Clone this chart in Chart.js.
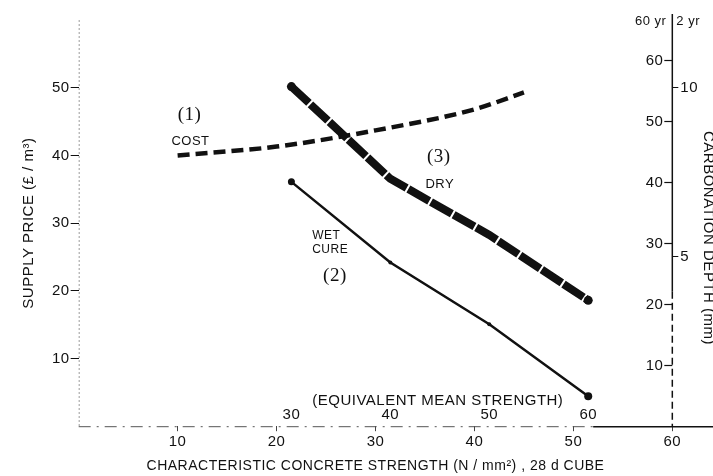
<!DOCTYPE html>
<html>
<head>
<meta charset="utf-8">
<title>Concrete strength: supply price and carbonation depth</title>
<script src="https://cdn.jsdelivr.net/npm/chart.js@4.4.1/dist/chart.umd.min.js"></script>
<style>
  html, body { margin: 0; padding: 0; background: #fff; }
  canvas { display: block; }
</style>
</head>
<body>
<canvas id="chart" width="713" height="476"></canvas>
<script>
// characteristic strength (N/mm2, 28 d cube) along x
var costStrength = [10, 20, 30, 40, 45];
var costPrice = [40, 41.3, 43.7, 46.8, 49.3];      // (1) supply price, £/m3

var cureStrength = [21.5, 31.5, 41.5, 51.5];
var wetDepth = [40, 26.8, 16.7, 4.9];              // (2) wet cure, 60 yr depth scale
var dryDepth = [55.6, 40.5, 31.3, 20.6];           // (3) dry, 60 yr depth scale

var strengthTicks = [10, 20, 30, 40, 50, 60];
var meanTicks = [30, 40, 50, 60];
var meanMargin = 8.5;                              // equivalent mean = characteristic + margin
var priceTicks = [10, 20, 30, 40, 50];
var depth60Ticks = [10, 20, 30, 40, 50, 60];
var depth2Ticks = [5, 10];

var ink = '#111';
var sans = "'Liberation Sans', Arial, Helvetica, sans-serif";
var serif = "'Liberation Serif', 'Times New Roman', serif";

Chart.defaults.font.family = sans;
Chart.defaults.color = ink;

function pts(xs, ys) {
  return xs.map(function(x, i) { return {x: x, y: ys[i]}; });
}

function fixedTicks(list) {
  return function(scale) {
    scale.ticks = list.map(function(v) { return {value: v}; });
  };
}

var decor = {
  id: 'decor',
  beforeUpdate: function(chart) { chart.ctx.letterSpacing = '0.5px'; },
  beforeDraw: function(chart) { chart.ctx.letterSpacing = '0.5px'; },
  beforeDatasetsDraw: function(chart) {
    var ctx = chart.ctx, a = chart.chartArea;
    var xs = chart.scales.x, y60 = chart.scales.y60;
    function line(x1, y1, x2, y2) {
      ctx.beginPath(); ctx.moveTo(x1, y1); ctx.lineTo(x2, y2); ctx.stroke();
    }
    ctx.save();
    // left axis: faint dotted
    ctx.lineWidth = 1;
    ctx.strokeStyle = '#9c9c9c';
    ctx.setLineDash([2, 2]);
    line(a.left + 0.5, a.top, a.left + 0.5, a.bottom);
    // bottom axis: broken dash-dot, solid from the end of the curves out to the edge
    var split = xs.getPixelForValue(52);
    ctx.strokeStyle = '#555';
    ctx.setLineDash([12, 6, 2, 6]);
    line(a.left, a.bottom + 0.5, split, a.bottom + 0.5);
    ctx.setLineDash([]);
    ctx.strokeStyle = ink;
    ctx.lineWidth = 1.5;
    line(split, a.bottom + 0.5, chart.width, a.bottom + 0.5);
    // right axis: solid at the top, dashed lower down
    var brk = y60.getPixelForValue(22);
    line(a.right, 14, a.right, brk);
    ctx.setLineDash([7, 4]);
    line(a.right, brk, a.right, a.bottom);
    // 60 yr scale: ticks and labels sit inside the plot
    ctx.setLineDash([]);
    ctx.lineWidth = 1.2;
    ctx.fillStyle = ink;
    ctx.font = '15px ' + sans;
    ctx.textAlign = 'right';
    ctx.textBaseline = 'middle';
    ctx.letterSpacing = '0.5px';
    depth60Ticks.forEach(function(v) {
      var py = Math.round(y60.getPixelForValue(v)) + 0.5;
      line(a.right - 8, py, a.right, py);
      ctx.fillText(String(v), a.right - 9, py);
    });
    ctx.restore();
  },
  afterDraw: function(chart) {
    var ctx = chart.ctx, a = chart.chartArea;
    var xs = chart.scales.x, yp = chart.scales.y;
    function label(str, xv, yv, font, align) {
      ctx.font = font;
      ctx.textAlign = align || 'center';
      ctx.fillText(str, xs.getPixelForValue(xv), yp.getPixelForValue(yv));
    }
    ctx.save();
    ctx.fillStyle = ink;
    ctx.textBaseline = 'middle';
    ctx.letterSpacing = '0.5px';
    label('(1)', 11.2, 45.9, '19px ' + serif);
    label('COST', 11.3, 42.1, '13px ' + sans);
    label('(3)', 36.4, 39.7, '19px ' + serif);
    label('DRY', 36.5, 35.7, '13px ' + sans);
    label('WET', 23.6, 28.1, '12px ' + sans, 'left');
    label('CURE', 23.6, 26.1, '12px ' + sans, 'left');
    label('(2)', 25.9, 22.2, '19px ' + serif);
    label('(EQUIVALENT MEAN STRENGTH)', 36.3, 3.8, '15px ' + sans);

    // labels for the two time scales at the top of the depth axis
    ctx.font = '13px ' + sans;
    ctx.textAlign = 'right';
    ctx.fillText('60 yr', a.right - 6, 21);
    ctx.textAlign = 'left';
    ctx.fillText('2 yr', a.right + 4, 21);

    // depth axis title, running down the right edge
    ctx.translate(a.right + 36, 238);
    ctx.rotate(Math.PI / 2);
    ctx.textAlign = 'center';
    ctx.font = '15px ' + sans;
    ctx.fillText('CARBONATION DEPTH (mm)', 0, 0);
    ctx.restore();
  }
};

new Chart(document.getElementById('chart'), {
  type: 'line',
  data: {
    datasets: [
      {
        label: 'DRY',
        data: pts(cureStrength, dryDepth),
        xAxisID: 'x', yAxisID: 'y60',
        borderColor: ink, backgroundColor: ink,
        borderWidth: 8, borderDash: [24, 2],
        pointRadius: [4.5, 0, 0, 4.5], pointBorderWidth: 0,
        tension: 0
      },
      {
        label: 'WET CURE',
        data: pts(cureStrength, wetDepth),
        xAxisID: 'x', yAxisID: 'y60',
        borderColor: ink, backgroundColor: ink,
        borderWidth: 2.5,
        pointRadius: [3.5, 2, 2, 4], pointBorderWidth: 0,
        tension: 0
      },
      {
        label: 'COST',
        data: pts(costStrength, costPrice),
        xAxisID: 'x', yAxisID: 'y',
        borderColor: ink,
        borderWidth: 4.5, borderDash: [12, 6],
        pointRadius: 0,
        cubicInterpolationMode: 'monotone'
      }
    ]
  },
  options: {
    responsive: false,
    animation: false,
    devicePixelRatio: 1,
    layout: { padding: { left: 20, top: 20, right: 13, bottom: 1 } },
    plugins: { legend: { display: false }, tooltip: { enabled: false } },
    scales: {
      x: {
        type: 'linear', position: 'bottom', min: 0, max: 60,
        afterBuildTicks: fixedTicks(strengthTicks),
        grid: { drawOnChartArea: false, tickLength: 5, color: '#444' },
        border: { display: false },
        ticks: { padding: 2, font: { size: 15 } },
        title: {
          display: true,
          text: 'CHARACTERISTIC CONCRETE STRENGTH (N / mm²) , 28 d CUBE',
          font: { size: 14 }, padding: { top: 5, bottom: 0 }
        }
      },
      xMean: {
        type: 'linear', position: { y: 0.4 },
        min: meanMargin, max: 60 + meanMargin,
        afterBuildTicks: fixedTicks(meanTicks),
        grid: { display: false, drawTicks: false },
        border: { display: false },
        ticks: { mirror: true, padding: 0, font: { size: 15 } }
      },
      y: {
        type: 'linear', position: 'left', min: 0, max: 60,
        afterBuildTicks: fixedTicks(priceTicks),
        grid: { drawOnChartArea: false, tickLength: 8, color: ink },
        border: { display: false },
        ticks: { padding: 1, font: { size: 15 } },
        title: {
          display: true, text: 'SUPPLY PRICE (£ / m³)',
          font: { size: 15 }, padding: { top: 0, bottom: 13 }
        }
      },
      y60: {
        type: 'linear', position: 'right', min: 0, max: 66.5,
        display: false
      },
      y2: {
        type: 'linear', position: 'right', min: 0, max: 12,
        afterBuildTicks: fixedTicks(depth2Ticks),
        grid: { drawOnChartArea: false, tickLength: 6, color: ink },
        border: { display: false },
        ticks: { padding: 2, font: { size: 15 } }
      }
    }
  },
  plugins: [decor]
});
</script>
</body>
</html>
